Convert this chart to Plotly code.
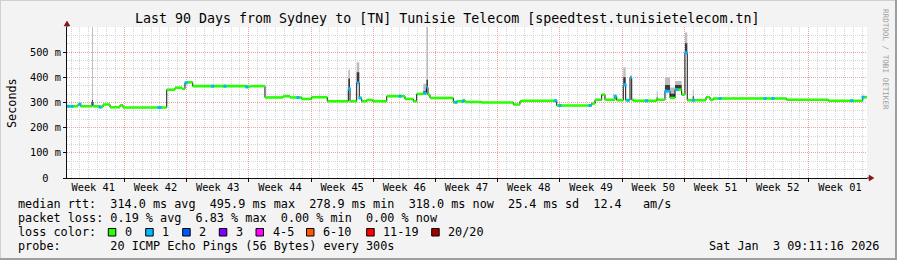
import bisect
import plotly.graph_objects as go

# ---------------- data ----------------
WINDOW_DAYS = 90          # last 90 days
Y_MAX_MS = 600
WEEK_BOUNDARY0 = 6.45     # first Monday boundary, days after window start
week_labels = ["Week 41", "Week 42", "Week 43", "Week 44", "Week 45", "Week 46", "Week 47",
               "Week 48", "Week 49", "Week 50", "Week 51", "Week 52", "Week 01"]
y_tick_vals = [0, 100, 200, 300, 400, 500]
y_tick_text = ["0\u00a0\u00a0", "100 m", "200 m", "300 m", "400 m", "500 m"]

# median rtt step segments (start day, median ms, lost pings, smoke upper-quartile ms, smoke max ms)
seg_day = [0.00, 1.24, 1.54, 2.81, 2.92, 3.71, 4.05, 4.84, 5.96, 6.30,
           11.22, 12.15, 12.94, 13.27, 13.53, 14.14, 20.22, 20.59, 22.27, 24.30,
           25.09, 26.40, 27.53, 29.28, 31.65, 31.84, 32.59, 32.88, 33.15, 33.72,
           34.39, 35.97, 38.02, 38.96, 39.34, 40.08, 40.44, 40.61, 40.84, 43.46,
           43.84, 44.58, 44.77, 46.65, 50.21, 50.96, 51.15, 55.09, 59.03, 59.40,
           60.15, 60.52, 61.65, 61.84, 62.58, 62.85, 63.34, 63.53, 63.71, 66.34,
           66.46, 67.27, 67.84, 68.40, 69.15, 69.52, 69.78, 70.40, 70.52, 71.89,
           72.34, 72.71, 80.96, 85.65, 89.52]
seg_median = [285, 293, 285, 302, 285, 282, 292, 281, 289, 280,
              351, 359, 354, 378, 380, 365, 362, 365, 320, 325,
              320, 314, 321, 305, 354, 305, 378, 318, 305, 310,
              305, 325, 314, 305, 334, 337, 360, 331, 318, 301,
              305, 310, 302, 300, 292, 305, 307, 288, 296, 311,
              331, 311, 325, 309, 370, 309, 398, 311, 307, 311,
              311, 345, 318, 351, 331, 497, 309, 309, 309, 321,
              311, 316, 311, 307, 321]
seg_loss = [0, 0, 0, 2, 0, 0, 0, 0, 0, 0,
            0, 0, 0, 0, 0, 0, 0, 0, 0, 0,
            0, 0, 0, 0, 1, 0, 1, 0, 0, 0,
            0, 0, 0, 0, 0, 0, 1, 0, 0, 0,
            0, 0, 0, 0, 0, 0, 0, 0, 0, 0,
            0, 0, 0, 0, 1, 0, 1, 0, 0, 0,
            0, 1, 0, 0, 0, 1, 0, 0, 0, 0,
            0, 0, 0, 0, 0]
seg_smoke_mid = [285, 293, 285, 310, 285, 282, 292, 281, 289, 280,
                 351, 359, 354, 378, 380, 365, 362, 365, 320, 325,
                 320, 314, 321, 305, 395, 305, 420, 318, 305, 310,
                 305, 325, 314, 305, 334, 345, 390, 331, 318, 301,
                 305, 310, 302, 300, 292, 305, 307, 288, 296, 311,
                 331, 311, 325, 309, 400, 309, 402, 311, 307, 320,
                 311, 370, 335, 370, 331, 535, 309, 325, 309, 321,
                 311, 316, 311, 307, 321]
seg_smoke_max = [285, 293, 285, 620, 285, 282, 292, 281, 289, 280,
                 351, 359, 354, 378, 380, 365, 362, 365, 320, 325,
                 320, 314, 321, 305, 430, 305, 460, 318, 305, 310,
                 305, 325, 314, 305, 334, 375, 620, 331, 318, 301,
                 305, 310, 302, 300, 292, 305, 307, 288, 296, 311,
                 331, 311, 325, 309, 440, 309, 408, 311, 307, 345,
                 311, 400, 360, 385, 331, 578, 309, 350, 309, 321,
                 311, 316, 311, 307, 321]

# isolated single-ping losses (day, lost pings)
loss_event_day = [0.11, 0.56, 1.46, 3.71, 10.35, 10.46, 13.39, 16.39, 17.77, 20.22,
                  25.99, 31.76, 32.96, 37.46, 40.27, 43.76, 44.55, 54.98, 55.46, 58.84,
                  61.65, 62.78, 63.11, 65.21, 67.39, 68.59, 69.64, 70.46, 73.46, 78.52,
                  79.42, 88.28, 89.55]
loss_event_count = [1] * len(loss_event_day)

title_text = "Last 90 Days from Sydney to [TN] Tunisie Telecom [speedtest.tunisietelecom.tn]"
stat_rtt = "median rtt:  314.0 ms avg  495.9 ms max  278.9 ms min  318.0 ms now  25.4 ms sd  12.4   am/s"
stat_loss = "packet loss: 0.19 % avg  6.83 % max  0.00 % min  0.00 % now"
loss_color_title = "loss color:"
probe_text = "probe:       20 ICMP Echo Pings (56 Bytes) every 300s"
timestamp_text = "Sat Jan  3 09:11:16 2026"
watermark_text = "RRDTOOL / TOBI OETIKER"
loss_labels = ["0", "1", "2", "3", "4-5", "6-10", "11-19", "20/20"]
loss_colors = ["#26ff00", "#00b8ff", "#0059ff", "#7e00ff", "#ff00ff", "#ff5500", "#ff0000", "#a10000"]

# ---------------- layout geometry / style ----------------
FONT = "DejaVu Sans Mono"
W, H = 897, 260
ML, MR, MT, MB = 67, 30, 27, 82
PW, PH = W - ML - MR, H - MT - MB
legend_square_px = [108.3, 145.7, 182.7, 219.3, 256.0, 306.5, 366.7, 431.7]


def px(xp):
    return (xp - ML) / PW


def py(yp):
    return (H - MB - yp) / PH


def sp(s):
    return s.replace(" ", "\u00a0")


step_x = seg_day + [WINDOW_DAYS]


def ext(vals):
    return vals + [vals[-1]]


fig = go.Figure()

# smoke: light outer band (max) then darker inner band
fig.add_trace(go.Scatter(x=step_x, y=ext(seg_median), mode="lines", line=dict(width=0, shape="hv"),
                         hoverinfo="skip", showlegend=False))
fig.add_trace(go.Scatter(x=step_x, y=ext(seg_smoke_max), mode="lines", line=dict(width=0, shape="hv"),
                         fill="tonexty", fillcolor="#bdbdbd", hoverinfo="skip", showlegend=False))
fig.add_trace(go.Scatter(x=step_x, y=ext(seg_median), mode="lines", line=dict(width=0, shape="hv"),
                         hoverinfo="skip", showlegend=False))
fig.add_trace(go.Scatter(x=step_x, y=ext(seg_smoke_mid), mode="lines", line=dict(width=0, shape="hv"),
                         fill="tonexty", fillcolor="#3a3a3a", hoverinfo="skip", showlegend=False))

# step transitions of the median (black)
fig.add_trace(go.Scatter(x=step_x, y=ext(seg_median), mode="lines",
                         line=dict(color="#111111", width=1, shape="hv"),
                         hoverinfo="skip", showlegend=False))

# median coloured by packet loss
for lvl in sorted(set(seg_loss)):
    xs, ys = [], []
    for i, d in enumerate(seg_day):
        if seg_loss[i] != lvl:
            continue
        xs += [d, step_x[i + 1], None]
        ys += [seg_median[i], seg_median[i], None]
    fig.add_trace(go.Scatter(x=xs, y=ys, mode="lines",
                             line=dict(color=loss_colors[lvl], width=2.6),
                             hoverinfo="skip", showlegend=False))


def median_at(day):
    i = max(0, bisect.bisect_right(seg_day, day) - 1)
    return seg_median[i]


fig.add_trace(go.Scatter(x=loss_event_day, y=[median_at(d) for d in loss_event_day],
                         xaxis="x2", mode="markers",
                         marker=dict(symbol="square", size=3,
                                     color=[loss_colors[c] for c in loss_event_count],
                                     line=dict(width=0)),
                         hoverinfo="skip", showlegend=False))

week_bounds = [WEEK_BOUNDARY0 + 7 * k for k in range(len(week_labels) - 1)]
week_centers = [WEEK_BOUNDARY0 - 3.5 + 7 * k for k in range(len(week_labels))]

GRID = "#d4d4d4"
MGRID = "#f2a0a0"

fig.update_layout(
    width=W, height=H,
    margin=dict(l=ML, r=MR, t=MT, b=MB),
    paper_bgcolor="#f3f3f3",
    plot_bgcolor="#ffffff",
    font=dict(family=FONT, color="#000000"),
    xaxis=dict(range=[0, WINDOW_DAYS], tickmode="array", tickvals=week_bounds,
               showticklabels=False, ticks="outside", ticklen=3, tickcolor="#101010",
               showgrid=True, gridcolor=MGRID, griddash="1px,1px", gridwidth=1,
               minor=dict(tickmode="linear", tick0=WEEK_BOUNDARY0, dtick=1, showgrid=True,
                          gridcolor=GRID, griddash="1px,1px", ticks=""),
               showline=True, linecolor="#101010", linewidth=1, zeroline=False, fixedrange=True),
    xaxis2=dict(range=[0, WINDOW_DAYS], overlaying="x", anchor="y", side="bottom",
                tickmode="array", tickvals=week_centers, ticktext=week_labels,
                tickfont=dict(family=FONT, size=10.3), ticks="", showgrid=False,
                ticklabelstandoff=2,
                showline=False, zeroline=False),
    yaxis=dict(range=[0, Y_MAX_MS], tickmode="array", tickvals=y_tick_vals, ticktext=y_tick_text,
               tickfont=dict(family=FONT, size=10.3), ticks="outside", ticklen=3,
               tickcolor="#101010",
               showgrid=True, gridcolor=MGRID, griddash="1px,1px",
               minor=dict(tickmode="linear", tick0=0, dtick=100 / 3, showgrid=True,
                          gridcolor=GRID, griddash="1px,1px", ticks=""),
               showline=True, linecolor="#101010", linewidth=1, zeroline=False),
)

ann = []
ann.append(dict(text=sp(title_text), x=px(446.5), y=py(18.5), xref="paper", yref="paper",
                xanchor="center", yanchor="middle", showarrow=False,
                font=dict(family=FONT, size=13.3)))
ann.append(dict(text="Seconds", x=px(12), y=py(103), xref="paper", yref="paper", textangle=-90,
                xanchor="center", yanchor="middle", showarrow=False,
                font=dict(family=FONT, size=11.8)))
ann.append(dict(text=sp(watermark_text), x=px(886), y=py(59), xref="paper", yref="paper",
                textangle=90, xanchor="center", yanchor="middle", showarrow=False,
                font=dict(family=FONT, size=7.6, color="#a0a0a0")))
for txt, yp in [(stat_rtt, 204.3), (stat_loss, 218.3), (loss_color_title, 232.3), (probe_text, 246.3)]:
    ann.append(dict(text=sp(txt), x=px(15.5), y=py(yp), xref="paper", yref="paper",
                    xanchor="left", yanchor="middle", showarrow=False,
                    font=dict(family=FONT, size=11.8)))
ann.append(dict(text=sp(timestamp_text), x=px(881), y=py(246.3), xref="paper", yref="paper",
                xanchor="right", yanchor="middle", showarrow=False,
                font=dict(family=FONT, size=11.8)))

shapes = []
for lab, col, sx in zip(loss_labels, loss_colors, legend_square_px):
    shapes.append(dict(type="rect", xref="paper", yref="paper",
                       x0=px(sx), x1=px(sx + 7.5), y0=py(236), y1=py(228.5),
                       fillcolor=col, line=dict(color="#000000", width=1)))
    ann.append(dict(text=sp(lab), x=px(sx + 14.5), y=py(232.3), xref="paper", yref="paper",
                    xanchor="left", yanchor="middle", showarrow=False,
                    font=dict(family=FONT, size=11.8)))

# axis extensions and arrows
ARROW = "#8b1515"
shapes.append(dict(type="line", xref="paper", yref="paper", x0=0, x1=0, y0=1, y1=py(24),
                   line=dict(color="#101010", width=1)))
shapes.append(dict(type="path", xref="paper", yref="paper",
                   path=f"M {px(64)},{py(26)} L {px(70)},{py(26)} L {px(67)},{py(21)} Z",
                   fillcolor=ARROW, line=dict(color=ARROW, width=0.5)))
shapes.append(dict(type="line", xref="paper", yref="paper", x0=1, x1=px(870), y0=0, y1=0,
                   line=dict(color="#101010", width=1)))
shapes.append(dict(type="path", xref="paper", yref="paper",
                   path=f"M {px(869)},{py(175)} L {px(869)},{py(181)} L {px(874)},{py(178)} Z",
                   fillcolor=ARROW, line=dict(color=ARROW, width=0.5)))
# 3D frame
shapes.append(dict(type="line", xref="paper", yref="paper", x0=px(0), x1=px(W), y0=py(0.5), y1=py(0.5),
                   line=dict(color="#cfcfcf", width=1)))
shapes.append(dict(type="line", xref="paper", yref="paper", x0=px(0.5), x1=px(0.5), y0=py(0), y1=py(H),
                   line=dict(color="#cfcfcf", width=1)))
shapes.append(dict(type="line", xref="paper", yref="paper", x0=px(0), x1=px(W), y0=py(H - 1), y1=py(H - 1),
                   line=dict(color="#9e9e9e", width=2)))
shapes.append(dict(type="line", xref="paper", yref="paper", x0=px(W - 1), x1=px(W - 1), y0=py(0), y1=py(H),
                   line=dict(color="#9e9e9e", width=2)))

fig.update_layout(annotations=ann, shapes=shapes)
fig.write_html("out.html")
